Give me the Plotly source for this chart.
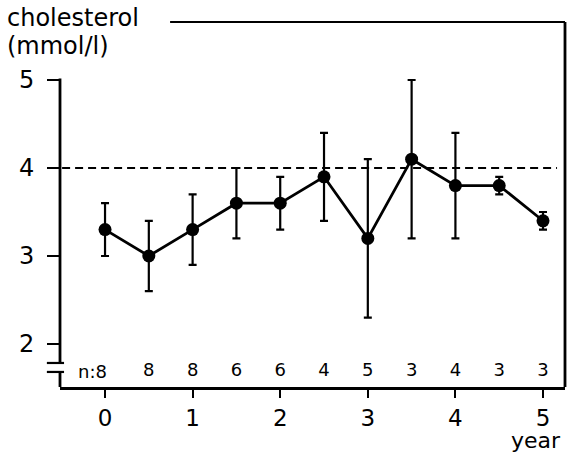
import plotly.graph_objects as go

years = [0, 0.5, 1, 1.5, 2, 2.5, 3, 3.5, 4, 4.5, 5]
mean_chol = [3.3, 3.0, 3.3, 3.6, 3.6, 3.9, 3.2, 4.1, 3.8, 3.8, 3.4]
upper = [3.6, 3.4, 3.7, 4.0, 3.9, 4.4, 4.1, 5.0, 4.4, 3.9, 3.5]
lower = [3.0, 2.6, 2.9, 3.2, 3.3, 3.4, 2.3, 3.2, 3.2, 3.7, 3.3]
n_counts = ["8", "8", "8", "6", "6", "4", "5", "3", "4", "3", "3"]
x_ticks = [0, 1, 2, 3, 4, 5]
y_ticks = [2, 3, 4, 5]
ref_level = 4

FONT = "DejaVu Sans"
err_plus = [u - m for u, m in zip(upper, mean_chol)]
err_minus = [m - l for m, l in zip(mean_chol, lower)]

X0, X1 = -0.514, 5.251
Y0, Y1 = 1.511, 5.659
n_row = 1.69


def py(v):
    return (v - Y0) / (Y1 - Y0)


fig = go.Figure()
fig.add_trace(go.Scatter(
    x=years, y=mean_chol, mode="lines+markers",
    line=dict(color="black", width=2.8),
    marker=dict(color="black", size=13),
    error_y=dict(type="data", symmetric=False, array=err_plus, arrayminus=err_minus,
                 color="black", thickness=2.2, width=4),
    showlegend=False, cliponaxis=False))

# n labels (the first one is drawn as "n:8")
fig.add_trace(go.Scatter(
    x=years[1:], y=[n_row] * (len(years) - 1), mode="text", text=n_counts[1:],
    textfont=dict(family=FONT, size=18, color="black"), showlegend=False, cliponaxis=False))
fig.add_annotation(x=years[0], y=n_row, xref="x", yref="y", text="n:" + n_counts[0],
                   showarrow=False, xanchor="right", yanchor="middle", xshift=4,
                   font=dict(family=FONT, size=18, color="black"))

shapes = []
# dashed reference line
shapes.append(dict(type="line", xref="x", yref="y", x0=-0.49, x1=5.16, y0=ref_level, y1=ref_level,
                   line=dict(color="black", width=1.8, dash="8px,5px")))
# left axis with break (paper coords so nothing is clipped)
shapes.append(dict(type="line", xref="paper", yref="paper", x0=0, x1=0,
                   y0=py(y_ticks[-1]) + 0.004, y1=py(1.784),
                   line=dict(color="black", width=2.8)))
shapes.append(dict(type="line", xref="paper", yref="paper", x0=0, x1=0, y0=py(1.682), y1=0,
                   line=dict(color="black", width=2.8)))
for yb in (1.784, 1.682):
    shapes.append(dict(type="line", xref="paper", yref="paper", x0=-0.026, x1=0.008,
                       y0=py(yb), y1=py(yb), line=dict(color="black", width=2.2)))
# top and right frame
shapes.append(dict(type="line", xref="paper", yref="paper", x0=0.218, x1=1, y0=1, y1=1,
                   line=dict(color="black", width=2.2)))
shapes.append(dict(type="line", xref="paper", yref="paper", x0=1, x1=1, y0=0, y1=1,
                   line=dict(color="black", width=2.8)))
fig.update_layout(shapes=shapes)

fig.add_annotation(xref="paper", yref="paper", x=-0.109, y=1.012, text="cholesterol",
                   showarrow=False, xanchor="left", yanchor="middle",
                   font=dict(family=FONT, size=24, color="black"))
fig.add_annotation(xref="paper", yref="paper", x=-0.109, y=0.934, text="(mmol/l)",
                   showarrow=False, xanchor="left", yanchor="middle",
                   font=dict(family=FONT, size=24, color="black"))
fig.add_annotation(xref="paper", yref="paper", x=0.996, y=-0.186, text="year",
                   showarrow=False, xanchor="right", yanchor="bottom",
                   font=dict(family=FONT, size=22, color="black"))

fig.update_xaxes(range=[X0, X1], tickvals=x_ticks, ticks="outside", ticklen=8, tickwidth=2,
                 tickcolor="black", showline=True, linewidth=2.8, linecolor="black",
                 showgrid=False, zeroline=False, ticklabelstandoff=0,
                 tickfont=dict(family=FONT, size=23, color="black"))
fig.update_yaxes(range=[Y0, Y1], tickvals=y_ticks, ticks="outside", ticklen=12, tickwidth=2,
                 tickcolor="black", showline=False, showgrid=False, zeroline=False,
                 ticklabelstandoff=8,
                 tickfont=dict(family=FONT, size=24, color="black"))

fig.update_layout(width=568, height=454, margin=dict(l=60, r=3, t=22, b=67),
                  plot_bgcolor="white", paper_bgcolor="white")
fig.write_html("out.html")
